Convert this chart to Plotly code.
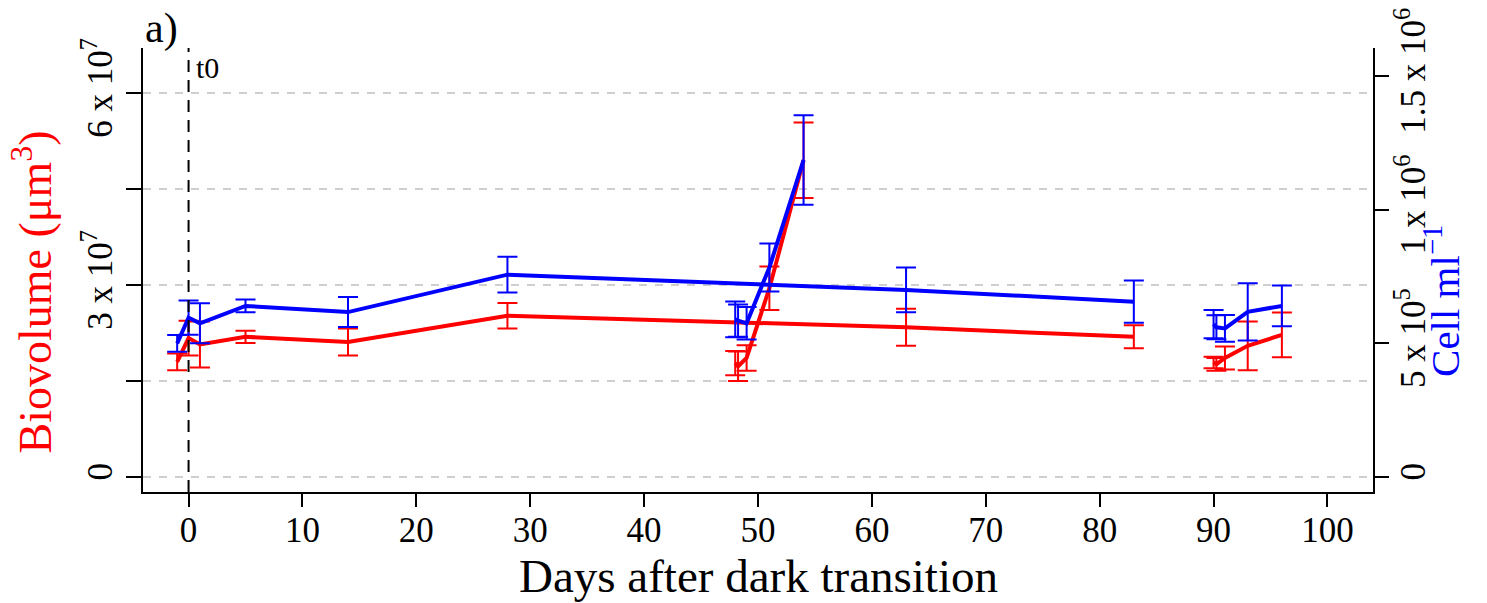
import plotly.graph_objects as go

# ---------------- data ----------------
main_days = [-1, 0, 1, 5, 14, 28, 63, 83]
main_bio = [18.0e6, 21.7e6, 20.7e6, 21.9e6, 21.1e6, 25.2e6, 23.4e6, 21.9e6]
main_bio_sd = [1.3e6, 2.7e6, 3.6e6, 0.95e6, 2.1e6, 2.0e6, 2.9e6, 1.8e6]
main_cell = [0.500e6, 0.596e6, 0.575e6, 0.640e6, 0.617e6, 0.757e6, 0.700e6, 0.656e6]
main_cell_sd = [0.031e6, 0.064e6, 0.075e6, 0.024e6, 0.056e6, 0.067e6, 0.084e6, 0.079e6]

subA_days = [48, 48.25, 49, 51, 54]
subA_bio = [17.8e6, 17.3e6, 18.6e6, 29.5e6, 49.5e6]
subA_bio_sd = [1.9e6, 2.3e6, 2.0e6, 3.4e6, 5.9e6]
subA_cell = [0.590e6, 0.585e6, 0.575e6, 0.784e6, 1.186e6]
subA_cell_sd = [0.067e6, 0.060e6, 0.061e6, 0.090e6, 0.167e6]

subB_days = [90, 90.25, 91, 93, 96]
subB_bio = [17.9e6, 17.6e6, 18.6e6, 20.5e6, 22.2e6]
subB_bio_sd = [0.9e6, 1.0e6, 1.8e6, 3.8e6, 3.5e6]
subB_cell = [0.572e6, 0.560e6, 0.556e6, 0.618e6, 0.640e6]
subB_cell_sd = [0.053e6, 0.045e6, 0.050e6, 0.107e6, 0.076e6]

x_ticks = [0, 10, 20, 30, 40, 50, 60, 70, 80, 90, 100]
left_ticks = [0, 3e7, 6e7]
left_labels = ["0", "3 x 10<sup>7</sup>", "6 x 10<sup>7</sup>"]
left_minor_ticks = [1.5e7, 4.5e7]
right_ticks = [0, 5e5, 1e6, 1.5e6]
right_labels = ["0", "5 x 10<sup>5</sup>", "1 x 10<sup>6</sup>", "1.5 x 10<sup>6</sup>"]

RED = "#FF0000"
BLUE = "#0000FF"
FONT = "Liberation Serif"

fig = go.Figure()

groups = [
    (main_days, main_bio, main_bio_sd, main_cell, main_cell_sd),
    (subA_days, subA_bio, subA_bio_sd, subA_cell, subA_cell_sd),
    (subB_days, subB_bio, subB_bio_sd, subB_cell, subB_cell_sd),
]

for d, b, bsd, c, csd in groups:
    fig.add_trace(go.Scatter(
        x=d, y=b, mode="lines", yaxis="y",
        line=dict(color=RED, width=4),
        error_y=dict(type="data", array=bsd, visible=True, color=RED,
                     thickness=2, width=10),
        showlegend=False, hoverinfo="skip"))

for d, b, bsd, c, csd in groups:
    fig.add_trace(go.Scatter(
        x=d, y=c, mode="lines", yaxis="y2",
        line=dict(color=BLUE, width=4),
        error_y=dict(type="data", array=csd, visible=True, color=BLUE,
                     thickness=2, width=10),
        showlegend=False, hoverinfo="skip"))

# t0 vertical dashed line
fig.add_shape(type="line", xref="x", yref="paper", x0=0, x1=0, y0=0, y1=1,
              line=dict(color="black", width=2, dash="12px,8px"), layer="above")

fig.update_layout(
    width=1487, height=603,
    margin=dict(l=143, r=114, t=48, b=111, autoexpand=False),
    paper_bgcolor="white", plot_bgcolor="white",
    font=dict(family=FONT, color="black", size=34),
    xaxis=dict(
        range=[-4, 104], tickvals=x_ticks, ticktext=[str(v) for v in x_ticks],
        showgrid=False, zeroline=False, showline=True, linecolor="black",
        linewidth=2, ticks="outside", ticklen=13, tickwidth=2, tickcolor="black",
        ticklabelstandoff=-7, automargin=False,
        tickfont=dict(family=FONT, size=35, color="black"),
    ),
    yaxis=dict(
        range=[-2.34e6, 67.03e6], tickvals=left_ticks, ticktext=left_labels,
        tickangle=-90, showgrid=True, gridcolor="#cfcfcf", gridwidth=2,
        griddash="8px,8px", zeroline=False, showline=True, linecolor="black",
        linewidth=2, ticks="outside", ticklen=15, tickwidth=2, tickcolor="black",
        automargin=False,
        tickfont=dict(family=FONT, size=35, color="black"),
        minor=dict(tickvals=left_minor_ticks, ticks="outside", ticklen=15,
                   tickwidth=2, tickcolor="black", showgrid=True,
                   gridcolor="#cfcfcf", gridwidth=2, griddash="8px,8px"),
    ),
    yaxis2=dict(
        range=[-0.0561e6, 1.605e6], tickvals=right_ticks, ticktext=right_labels,
        tickangle=-90, overlaying="y", side="right", showgrid=False,
        zeroline=False, showline=True, linecolor="black", linewidth=2,
        ticks="outside", ticklen=14, tickwidth=2, tickcolor="black",
        ticklabelstandoff=-6, automargin=False,
        tickfont=dict(family=FONT, size=35, color="black"),
    ),
    annotations=[
        dict(text="Days after dark transition", xref="paper", yref="paper",
             x=0.5, y=-0.19, xanchor="center", yanchor="middle", showarrow=False,
             font=dict(family=FONT, size=47, color="black")),
        dict(text="Biovolume (μm<sup>3</sup>)", xref="paper", yref="paper",
             x=-0.09, y=0.45, xanchor="center", yanchor="middle", textangle=-90,
             showarrow=False, font=dict(family=FONT, size=46, color=RED)),
        dict(text="Cell ml<sup>−1</sup>", xref="paper", yref="paper",
             x=1.056, y=0.43, xanchor="center", yanchor="middle", textangle=-90,
             showarrow=False, font=dict(family=FONT, size=41, color=BLUE)),
        dict(text="a)", xref="paper", yref="paper", x=0.0, y=1.045,
             xanchor="left", yanchor="middle", showarrow=False,
             font=dict(family=FONT, size=42, color="black")),
        dict(text="t0", xref="x", yref="paper", x=0.5, y=0.955,
             xanchor="left", yanchor="middle", showarrow=False,
             font=dict(family=FONT, size=30, color="black")),
    ],
)

fig.write_html("out.html")
